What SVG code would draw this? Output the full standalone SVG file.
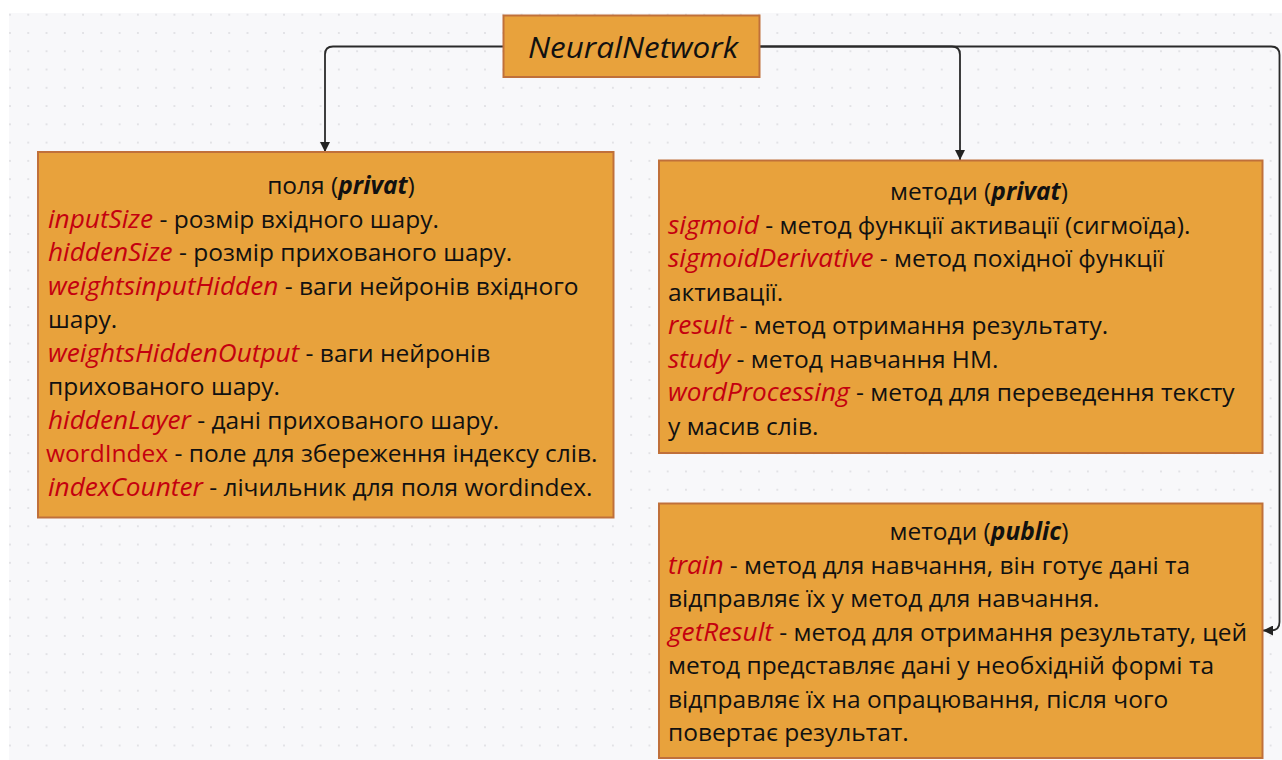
<svg xmlns="http://www.w3.org/2000/svg" width="1282" height="760" viewBox="0 0 1282 760">
<defs>
<pattern id="dots" x="10" y="14.7" width="18.27" height="18.27" patternUnits="userSpaceOnUse">
<circle cx="0" cy="0" r="1" fill="#dcdce0"/>
<circle cx="18.27" cy="0" r="1" fill="#dcdce0"/>
<circle cx="0" cy="18.27" r="1" fill="#dcdce0"/>
<circle cx="18.27" cy="18.27" r="1" fill="#dcdce0"/>
</pattern>
<marker id="arr" viewBox="0 0 10 10" refX="10" refY="5" markerWidth="10" markerHeight="10" markerUnits="userSpaceOnUse" orient="auto">
<path d="M0,0 L10,5 L0,10 Z" fill="#222"/>
</marker>
<style>
.box{fill:#e8a23c;stroke:#c0703a;stroke-width:2}
.t{font-family:"Open Sans","Noto Sans",sans-serif;font-size:24.5px;fill:#111}
.c{text-anchor:middle}
.k{fill:#c4000f;font-style:italic;font-weight:500;font-size:26.2px}
.kn{fill:#c4000f}
.b{font-style:italic;font-weight:bold}
.title{font-family:"Open Sans","Noto Sans",sans-serif;font-size:29.5px;font-style:italic;font-weight:500;fill:#111;text-anchor:middle}
.conn{fill:none;stroke:#2a2a2a;stroke-width:1.8}
</style>
</defs>
<rect x="0" y="0" width="1282" height="760" fill="#ffffff"/>
<rect x="9" y="13" width="1273" height="747" fill="#f8f8fa"/>
<rect x="9" y="13" width="1273" height="747" fill="url(#dots)"/>

<g id="connectors">
<path class="conn" d="M503,46.5 H333 Q325,46.5 325,54.5 V152" marker-end="url(#arr)"/>
<path class="conn" d="M760,46.5 H952 Q960,46.5 960,54.5 V160" marker-end="url(#arr)"/>
<path class="conn" d="M760,46.5 H1271 Q1279.5,46.5 1279.5,55 V622 Q1279.5,630.5 1271,630.5 H1263" marker-end="url(#arr)"/>
</g>

<g id="node-neuralnetwork">
<rect class="box" x="503.5" y="15.5" width="256" height="61.5"/>
<text class="title" x="633" y="57.5" textLength="210" lengthAdjust="spacingAndGlyphs">NeuralNetwork</text>
</g>

<g id="node-fields">
<rect class="box" x="38" y="152" width="575.5" height="365.5"/>
<text class="t c" x="341" y="194">поля (<tspan class="b">privat</tspan>)</text>
<text class="t" x="48" y="227.5"><tspan class="k">inputSize</tspan> - розмір вхідного шару.</text>
<text class="t" x="48" y="261"><tspan class="k">hiddenSize</tspan> - розмір прихованого шару.</text>
<text class="t" x="48" y="294.5"><tspan class="k">weightsinputHidden</tspan> - ваги нейронів вхідного</text>
<text class="t" x="48" y="328">шару.</text>
<text class="t" x="48" y="361.5"><tspan class="k">weightsHiddenOutput</tspan> - ваги нейронів</text>
<text class="t" x="48" y="395">прихованого шару.</text>
<text class="t" x="48" y="428.5"><tspan class="k">hiddenLayer</tspan> - дані прихованого шару.</text>
<text class="t" x="46" y="462"><tspan class="kn">wordIndex</tspan> - поле для збереження індексу слів.</text>
<text class="t" x="48" y="495.5"><tspan class="k">indexCounter</tspan> - лічильник для поля wordindex.</text>
</g>

<g id="node-private-methods">
<rect class="box" x="659" y="160.5" width="603.5" height="292.5"/>
<text class="t c" x="979" y="200">методи (<tspan class="b">privat</tspan>)</text>
<text class="t" x="668" y="233.5"><tspan class="k">sigmoid</tspan> - метод функції активації (сигмоїда).</text>
<text class="t" x="668" y="267"><tspan class="k">sigmoidDerivative</tspan> - метод похідної функції</text>
<text class="t" x="668" y="300.5">активації.</text>
<text class="t" x="668" y="334"><tspan class="k">result</tspan> - метод отримання результату.</text>
<text class="t" x="668" y="367.5"><tspan class="k">study</tspan> - метод навчання НМ.</text>
<text class="t" x="668" y="401"><tspan class="k">wordProcessing</tspan> - метод для переведення тексту</text>
<text class="t" x="668" y="434.5">у масив слів.</text>
</g>

<g id="node-public-methods">
<rect class="box" x="659" y="503.5" width="603.5" height="254.5"/>
<text class="t c" x="979" y="540">методи (<tspan class="b">public</tspan>)</text>
<text class="t" x="668" y="573.5"><tspan class="k">train</tspan> - метод для навчання, він готує дані та</text>
<text class="t" x="668" y="607">відправляє їх у метод для навчання.</text>
<text class="t" x="668" y="640.5"><tspan class="k">getResult</tspan> - метод для отримання результату, цей</text>
<text class="t" x="668" y="674">метод представляє дані у необхідній формі та</text>
<text class="t" x="668" y="707.5">відправляє їх на опрацювання, після чого</text>
<text class="t" x="668" y="741">повертає результат.</text>
</g>
</svg>
